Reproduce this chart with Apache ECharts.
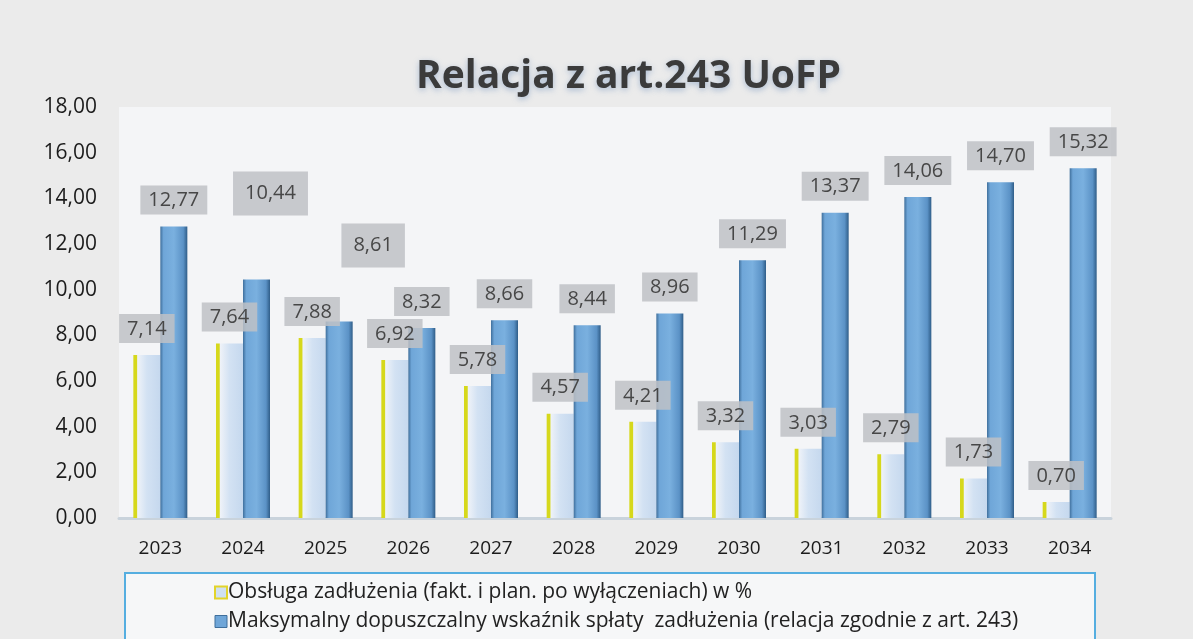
<!DOCTYPE html>
<html>
<head>
<meta charset="utf-8">
<script src="https://cdn.jsdelivr.net/npm/echarts@6/dist/echarts.min.js"></script>
<style>
  html, body { margin: 0; padding: 0; background: #ebebeb; }
  #chart { width: 1193px; height: 639px; }
</style>
</head>
<body>
<div id="chart"></div>
<script>
// lata i wartości
var years = ['2023', '2024', '2025', '2026', '2027', '2028', '2029', '2030', '2031', '2032', '2033', '2034'];
var obsluga = [7.14, 7.64, 7.88, 6.92, 5.78, 4.57, 4.21, 3.32, 3.03, 2.79, 1.73, 0.70];
var maksymalny = [12.77, 10.44, 8.61, 8.32, 8.66, 8.44, 8.96, 11.29, 13.37, 14.06, 14.70, 15.32];
var seriesNames = [
    'Obsługa zadłużenia (fakt. i plan. po wyłączeniach) w %',
    'Maksymalny dopuszczalny wskaźnik spłaty  zadłużenia (relacja zgodnie z art. 243)'
];

function pl(v) { return v.toFixed(2).replace('.', ','); }

var chart = echarts.init(document.getElementById('chart'));

var calloutLabel = {
    show: true,
    position: 'top',
    distance: 12,
    backgroundColor: 'rgba(190,193,197,0.85)',
    padding: [5, 8, 4, 8],
    color: '#474747',
    fontFamily: 'Open Sans',
    fontSize: 20,
    formatter: function (p) { return pl(p.value); }
};

// dwie dymki w 2024 i 2025 są podniesione wyżej
var shifted = { 1: [14, -52], 2: [34, -42] };
var maxData = maksymalny.map(function (v, i) {
    if (shifted[i]) {
        return { value: v, label: { offset: shifted[i], padding: [12, 12, 12, 12] } };
    }
    return v;
});

var option = {
    backgroundColor: '#ebebeb',
    title: {
        text: 'Relacja z art.243 UoFP',
        left: 411,
        top: 52,
        textStyle: {
            fontFamily: 'Open Sans',
            fontWeight: 'bold',
            fontSize: 39,
            color: '#3b3b3b',
            textShadowColor: 'rgba(120,150,190,0.6)',
            textShadowBlur: 6,
            textShadowOffsetY: 2
        }
    },
    grid: {
        left: 119,
        right: 82,
        top: 107,
        bottom: 121,
        show: true,
        backgroundColor: '#f4f5f7',
        borderWidth: 0
    },
    legend: {
        orient: 'vertical',
        left: 209,
        top: 577,
        itemGap: 8,
        itemWidth: 12,
        itemHeight: 12,
        icon: 'rect',
        textStyle: { fontFamily: 'Open Sans', fontSize: 21, color: '#222', padding: [0, 0, 0, -4] },
        data: [
            { name: seriesNames[0], itemStyle: { color: '#cfe0f2', borderColor: '#e2d42a', borderWidth: 2 } },
            { name: seriesNames[1], itemStyle: { color: '#6fa6d8', borderColor: '#3f6f9c', borderWidth: 1 } }
        ]
    },
    graphic: [{
        type: 'rect',
        z: -1,
        shape: { x: 125, y: 573, width: 970, height: 80 },
        style: { fill: '#f6f7f8', stroke: '#55aee0', lineWidth: 2 }
    }],
    xAxis: {
        type: 'category',
        data: years,
        axisLine: { lineStyle: { color: '#c9d3dc', width: 3 } },
        axisTick: { show: false },
        axisLabel: { fontFamily: 'Open Sans', fontSize: 19, color: '#1c1c1c', margin: 21 }
    },
    yAxis: {
        type: 'value',
        min: 0,
        max: 18,
        interval: 2,
        splitLine: { show: false },
        axisLine: { show: false },
        axisTick: { show: false },
        axisLabel: {
            fontFamily: 'Open Sans',
            fontSize: 21,
            color: '#1c1c1c',
            margin: 22,
            formatter: function (v) { return pl(v); }
        }
    },
    series: [
        {
            name: seriesNames[0],
            type: 'bar',
            barWidth: 27,
            barGap: '0%',
            data: obsluga,
            itemStyle: {
                color: new echarts.graphic.LinearGradient(0, 0, 1, 0, [
                    { offset: 0, color: '#d6d81c' },
                    { offset: 0.12, color: '#d6d81c' },
                    { offset: 0.16, color: '#eef2f8' },
                    { offset: 0.5, color: '#d3e2f3' },
                    { offset: 1, color: '#c5d8ee' }
                ])
            },
            label: calloutLabel
        },
        {
            name: seriesNames[1],
            type: 'bar',
            barWidth: 27,
            data: maxData,
            itemStyle: {
                color: new echarts.graphic.LinearGradient(0, 0, 1, 0, [
                    { offset: 0, color: '#3f6f9c' },
                    { offset: 0.12, color: '#6fa6d8' },
                    { offset: 0.5, color: '#7ab0df' },
                    { offset: 0.85, color: '#5b92c6' },
                    { offset: 1, color: '#2f5d88' }
                ])
            },
            label: calloutLabel
        }
    ]
};

chart.setOption(option);
</script>
</body>
</html>
